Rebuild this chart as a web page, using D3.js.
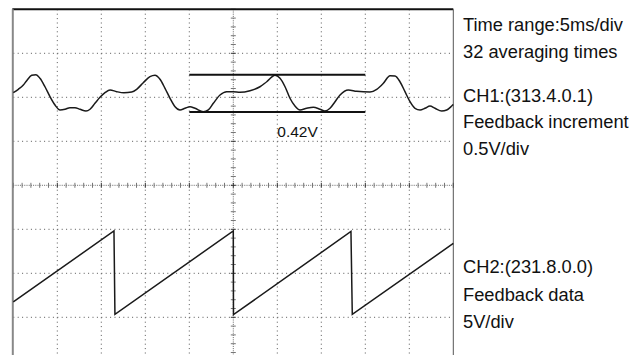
<!DOCTYPE html>
<html>
<head>
<meta charset="utf-8">
<script src="https://cdn.jsdelivr.net/npm/d3@7"></script>
<style>
  html, body { margin: 0; padding: 0; background: #fff; }
  svg { display: block; }
  text { font-family: "Liberation Sans", Arial, sans-serif; fill: #111; }
</style>
</head>
<body>
<div id="chart"></div>
<script>
// ---- data (time in ms, 5 ms/div; CH1 in V at 0.5 V/div; CH2 in V at 5 V/div) ----
const ch1Time = [0,0.57,1.14,1.52,2.09,2.58,3.03,3.60,4.17,4.74,5.31,5.88,6.44,7.01,7.58,8.26,8.72,9.28,9.85,10.42,10.99,11.75,12.57,13.45,14.02,14.77,15.53,16.10,16.67,17.24,17.81,18.38,18.94,19.51,20.08,20.65,21.59,22.16,22.73,23.49,24.25,25.0,25.76,26.90,28.03,28.80,29.74,30.31,30.88,31.44,32.01,32.58,33.34,34.09,34.85,35.42,35.99,36.56,37.13,38.07,39.02,40.53,41.30,42.05,42.81,43.38,43.94,44.51,45.08,45.65,46.22,46.78,47.35,47.92,48.68,49.25,49.82,50];
const ch1Volt = [0.052,0.091,0.140,0.189,0.250,0.257,0.216,0.120,0.007,-0.088,-0.144,-0.136,-0.118,-0.118,-0.136,-0.156,-0.136,-0.068,0,0.052,0.083,0.064,0.052,0.060,0.091,0.166,0.234,0.250,0.205,0.102,-0.011,-0.107,-0.144,-0.125,-0.107,-0.125,-0.164,-0.144,-0.068,0.026,0.064,0.064,0.057,0.075,0.120,0.177,0.250,0.216,0.120,-0.011,-0.099,-0.144,-0.125,-0.114,-0.136,-0.156,-0.125,-0.050,0.026,0.083,0.068,0.060,0.091,0.159,0.245,0.242,0.177,0.064,-0.050,-0.125,-0.144,-0.125,-0.099,-0.125,-0.156,-0.144,-0.099,-0.082];

const ch2Time = [0, 11.44, 11.55, 25.0, 25.02, 38.37, 38.52, 50];
const ch2Volt = [1.76, 9.81, 0.34, 9.81, 0.30, 9.75, 0.34, 8.39];

// cursors on CH1
const cursorTime = [20, 40];
const cursorVolt = [0.257, -0.167];
const cursorLabel = "0.42V";
const cursorLabelPos = [30, -0.455]; // [ms, V]

const infoTop = ["Time range:5ms/div", "32 averaging times"];
const infoCh1 = ["CH1:(313.4.0.1)", "Feedback increment", "0.5V/div"];
const infoCh2 = ["CH2:(231.8.0.0)", "Feedback data", "5V/div"];

// ---- layout ----
const W = 638, H = 355;
const leftX = 13.3, topY = 9.3, divPx = 44;
const nx = 10, ny = 8;

const svg = d3.select("#chart").append("svg")
  .attr("width", W).attr("height", H)
  .style("background", "#fff");

const x = d3.scaleLinear().domain([0, 50]).range([leftX, leftX + nx * divPx]);
const yDiv = d3.scaleLinear().domain([-4, 4]).range([topY + ny * divPx, topY]);
// CH1: ground at +2 div, 0.5 V/div ; CH2: ground at -3 div, 5 V/div
const y1 = d3.scaleLinear().domain([(-4 - 2) * 0.5, (4 - 2) * 0.5]).range(yDiv.range());
const y2 = d3.scaleLinear().domain([(-4 + 3) * 5, (4 + 3) * 5]).range(yDiv.range());

const gGrid = svg.append("g");
const xMajor = d3.range(0, 51, 5);
gGrid.selectAll("line.vx").data(xMajor.filter(d => d !== 25 && d !== 0 && d !== 50)).join("line")
  .attr("x1", d => x(d)).attr("x2", d => x(d))
  .attr("y1", topY).attr("y2", topY + ny * divPx)
  .attr("stroke", "#555").attr("stroke-width", 1)
  .attr("stroke-dasharray", "1,3.4");
const yMajor = d3.range(-4, 5, 1);
gGrid.selectAll("line.hy").data(yMajor.filter(d => d !== 0 && d !== 4 && d !== -4)).join("line")
  .attr("x1", leftX).attr("x2", leftX + nx * divPx)
  .attr("y1", d => yDiv(d)).attr("y2", d => yDiv(d))
  .attr("stroke", "#555").attr("stroke-width", 1)
  .attr("stroke-dasharray", "1,3.4");

// centre axes with minor ticks
const gAx = svg.append("g");
gAx.append("line").attr("x1", leftX).attr("x2", leftX + nx * divPx)
  .attr("y1", yDiv(0)).attr("y2", yDiv(0))
  .attr("stroke", "#666").attr("stroke-dasharray", "1,1.2");
gAx.append("line").attr("x1", x(25)).attr("x2", x(25))
  .attr("y1", topY).attr("y2", topY + ny * divPx)
  .attr("stroke", "#666").attr("stroke-dasharray", "1,1.2");
const xMinor = d3.range(0, 50.01, 1);
gAx.selectAll("line.tx").data(xMinor).join("line")
  .attr("x1", d => x(d)).attr("x2", d => x(d))
  .attr("y1", yDiv(0) - 2.5).attr("y2", yDiv(0) + 2.5)
  .attr("stroke", (d, i) => i % 5 === 0 ? "#333" : "#777").attr("stroke-width", 1);
const yMinor = d3.range(-4, 4.001, 0.2);
gAx.selectAll("line.ty").data(yMinor).join("line")
  .attr("x1", x(25) - 2.5).attr("x2", x(25) + 2.5)
  .attr("y1", d => yDiv(d)).attr("y2", d => yDiv(d))
  .attr("stroke", (d, i) => i % 5 === 0 ? "#333" : "#777").attr("stroke-width", 1);

// frame
svg.append("line").attr("x1", leftX - 1).attr("x2", leftX + nx * divPx)
  .attr("y1", topY).attr("y2", topY).attr("stroke", "#111").attr("stroke-width", 2);
svg.append("line").attr("x1", leftX - 0.5).attr("x2", leftX - 0.5)
  .attr("y1", topY).attr("y2", H).attr("stroke", "#888").attr("stroke-width", 2);
svg.append("line").attr("x1", x(50)).attr("x2", x(50))
  .attr("y1", topY).attr("y2", H).attr("stroke", "#555").attr("stroke-width", 1);

// waveforms
const line1 = d3.line().x(d => x(d[0])).y(d => y1(d[1])).curve(d3.curveMonotoneX);
svg.append("path").datum(ch1Time.map((t, i) => [t, ch1Volt[i]]))
  .attr("d", line1).attr("fill", "none").attr("stroke", "#1a1a1a").attr("stroke-width", 1.5);

const line2 = d3.line().x(d => x(d[0])).y(d => y2(d[1]));
svg.append("path").datum(ch2Time.map((t, i) => [t, ch2Volt[i]]))
  .attr("d", line2).attr("fill", "none").attr("stroke", "#1a1a1a").attr("stroke-width", 1.5);

// cursors
svg.selectAll("line.cur").data(cursorVolt).join("line")
  .attr("x1", x(cursorTime[0])).attr("x2", x(cursorTime[1]))
  .attr("y1", d => y1(d)).attr("y2", d => y1(d))
  .attr("stroke", "#111").attr("stroke-width", 2);
svg.append("text").attr("x", x(cursorLabelPos[0])).attr("y", y1(cursorLabelPos[1]))
  .style("font-size", "15.5px").text(cursorLabel);

// info text
const tx = 463;
const info = svg.append("g").style("font-size", "18.3px");
infoTop.forEach((s, i) => info.append("text").attr("x", tx).attr("y", 30.7 + i * 27.3).text(s));
infoCh1.forEach((s, i) => info.append("text").attr("x", tx).attr("y", 101.7 + i * 26.7).text(s));
infoCh2.forEach((s, i) => info.append("text").attr("x", tx).attr("y", 273.3 + i * 27.2).text(s));
</script>
</body>
</html>
